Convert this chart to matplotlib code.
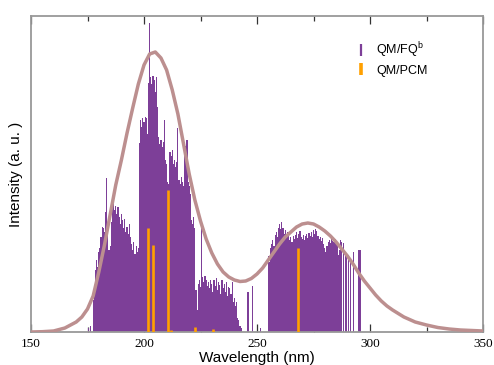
import matplotlib
matplotlib.use("Agg")
import matplotlib.pyplot as plt
from matplotlib.lines import Line2D
from matplotlib.ticker import MultipleLocator

plt.rcParams["font.family"] = ["Liberation Sans", "DejaVu Sans"]
plt.rcParams["mathtext.fontset"] = "custom"
plt.rcParams["mathtext.rm"] = "Liberation Sans"

# QM/FQ stick spectrum (nm, arbitrary units)
fq_wl = [
    175.3, 176.2,
    177.5, 178.0, 178.5, 179.0, 179.5, 180.0, 180.5, 181.0, 181.5, 182.0,
    182.5, 183.0, 183.5, 184.0, 184.5, 185.0, 185.5, 186.0, 186.5, 187.0,
    187.5, 188.0, 188.5, 189.0, 189.5, 190.0, 190.5, 191.0, 191.5, 192.0,
    192.5, 193.0, 193.5, 194.0, 194.5, 195.0, 195.5, 196.0, 196.5, 197.0,
    197.5, 198.0, 198.5, 199.0, 199.5, 200.0, 200.5, 201.0, 201.5, 202.0,
    202.5, 203.0, 203.5, 204.0, 204.5, 205.0, 205.5, 206.0, 206.5, 207.0,
    207.5, 208.0, 208.5, 209.0, 209.5, 210.0, 210.5, 211.0, 211.5, 212.0,
    212.5, 213.0, 213.5, 214.0, 214.5, 215.0, 215.5, 216.0, 216.5, 217.0,
    217.5, 218.0, 218.5, 219.0, 219.5, 220.0, 220.5, 221.0, 221.5, 222.0,
    222.5, 223.0, 223.5, 224.0, 224.5, 225.0, 225.5, 226.0, 226.5, 227.0,
    227.5, 228.0, 228.5, 229.0, 229.5, 230.0, 230.5, 231.0, 231.5, 232.0,
    232.5, 233.0, 233.5, 234.0, 234.5, 235.0, 235.5, 236.0, 236.5, 237.0,
    237.5, 238.0, 238.5, 239.0, 239.5, 240.0, 240.5, 241.0, 241.5, 242.0,
    242.5, 243.0,
    246.0, 248.0, 251.5,
    255.0, 255.5, 256.0, 256.5, 257.0, 257.5, 258.0, 258.5, 259.0, 259.5,
    260.0, 260.5, 261.0, 261.5, 262.0, 262.5, 263.0, 263.5, 264.0, 264.5,
    265.0, 265.5, 266.0, 266.5, 267.0, 267.5, 268.0, 268.5, 269.0, 269.5,
    270.0, 270.5, 271.0, 271.5, 272.0, 272.5, 273.0, 273.5, 274.0, 274.5,
    275.0, 275.5, 276.0, 276.5, 277.0, 277.5, 278.0, 278.5, 279.0, 279.5,
    280.0, 280.5, 281.0, 281.5, 282.0, 282.5, 283.0, 283.5, 284.0, 284.5,
    285.0, 285.5, 286.0, 286.5, 287.0, 287.5, 288.2, 289.0, 289.7, 290.4,
    291.2, 292.6, 294.8, 295.6,
]
fq_int = [
    4, 6,
    32, 45, 62, 72, 65, 80, 84, 95, 105, 104,
    100, 120, 154, 98, 82, 86, 110, 124, 128, 122,
    126, 118, 125, 115, 108, 118, 112, 104, 113, 100,
    105, 98, 108, 95, 88, 82, 90, 78, 86, 80,
    84, 189, 212, 205, 214, 210, 215, 214, 198, 249,
    309, 255, 248, 256, 252, 240, 255, 225, 195, 188,
    192, 185, 190, 212, 172, 168, 150, 148, 180, 176,
    182, 168, 172, 165, 170, 204, 152, 148, 155, 150,
    146, 190, 186, 192, 150, 146, 138, 112, 108, 115,
    104, 42, 22, 48, 52, 45, 110, 55, 50, 56,
    52, 46, 50, 44, 52, 48, 40, 52, 46, 54,
    42, 50, 47, 38, 52, 44, 48, 40, 50, 36,
    45, 44, 38, 50, 30, 34, 26, 30, 14, 12,
    6, 4,
    40, 46, 4,
    76, 70, 84, 88, 92, 86, 97, 100, 95, 104,
    108, 103, 110, 104, 98, 102, 96, 100, 97, 92,
    95, 90, 96, 93, 97, 100, 94, 98, 101, 95,
    93, 97, 92, 96, 98, 94, 99, 96, 100, 95,
    102, 98, 103, 101, 96, 93, 95, 91, 94, 88,
    84, 80, 86, 90, 92, 89, 93, 91, 90, 93,
    91, 88, 77, 82, 92, 90, 89, 79, 79, 77,
    72, 80, 82, 82,
]

# QM/PCM stick spectrum
pcm_wl = [201.9, 203.8, 210.8, 212.0, 222.6, 230.7, 268.3]
pcm_int = [104, 87, 142, 2, 5, 3, 84]

# broadened spectrum
band_wl = [
    150, 155, 160, 165, 170, 172.5, 175, 177.5, 180, 182.5, 185, 187.5,
    190, 192.5, 195, 197.5, 200, 202.5, 205, 207.5, 210, 212.5, 215, 217.5,
    220, 222.5, 225, 227.5, 230, 232.5, 235, 237.5, 240, 242.5, 245, 247.5,
    250, 252.5, 255, 257.5, 260, 262.5, 265, 267.5, 270, 272.5, 275, 277.5,
    280, 282.5, 285, 287.5, 290, 292.5, 295, 297.5, 300, 302.5, 305, 307.5,
    310, 315, 320, 325, 330, 335, 340, 345, 350,
]
band_int = [
    0, 0.3, 1, 4, 10, 15, 23, 36, 60, 87, 117, 147,
    172, 199, 224, 248, 267, 278, 280, 274, 262, 242, 218, 188,
    158, 132, 111, 93, 79, 68, 60, 55, 52, 50.5, 51, 53.5,
    58, 64, 72, 80, 88, 95, 100, 105, 108, 109, 108, 105,
    101, 96, 90, 83, 76, 68, 59, 51, 44, 37, 31, 26,
    22, 15, 10, 7, 4.5, 3, 2, 1.5, 1,
]

purple = "#7D3F98"
orange = "#FFA000"
band_color = "#BC8F8F"

fig = plt.figure(figsize=(4.94, 3.65), dpi=100)
ax = fig.add_axes([31 / 494, 33 / 365, 452 / 494, 316 / 365])

ax.bar(fq_wl, fq_int, width=0.5, color=purple, linewidth=0, zorder=2)
ax.vlines(pcm_wl, 0, pcm_int, color=orange, linewidth=1.9, zorder=3)
ax.plot(band_wl, band_int, color=band_color, linewidth=2.5, zorder=4,
        solid_capstyle="round")

ax.set_xlim(150, 350)
ax.set_ylim(0, 316)
ax.set_yticks([])
ax.xaxis.set_major_locator(MultipleLocator(50))
ax.xaxis.set_minor_locator(MultipleLocator(25))
ax.tick_params(axis="x", which="both", direction="in", top=True,
               color="#333333", labelsize=9.5, pad=4,
               labelfontfamily="Liberation Serif")
ax.tick_params(axis="x", which="major", length=6, width=0.9)
ax.tick_params(axis="x", which="minor", length=3.5, width=0.9)
for side in ax.spines.values():
    side.set_color("#999999")
    side.set_linewidth(1.3)

ax.set_xlabel("Wavelength (nm)", fontsize=11, labelpad=1)
ax.set_ylabel("Intensity (a. u. )", fontsize=11, labelpad=6)

handles = [
    Line2D([], [], marker="|", linestyle="none", color=purple,
           markersize=9, markeredgewidth=1.6),
    Line2D([], [], marker="|", linestyle="none", color=orange,
           markersize=9, markeredgewidth=2.6),
]
fig.legend(handles, ["QM/FQ$^{\\mathrm{b}}$", "QM/PCM"],
           loc="upper left", bbox_to_anchor=(345 / 494, 1 - 30 / 365),
           frameon=False, fontsize=9, handlelength=1.0,
           handletextpad=0.7, labelspacing=0.4, borderpad=0.3)

fig.savefig("out.png", dpi=100)
